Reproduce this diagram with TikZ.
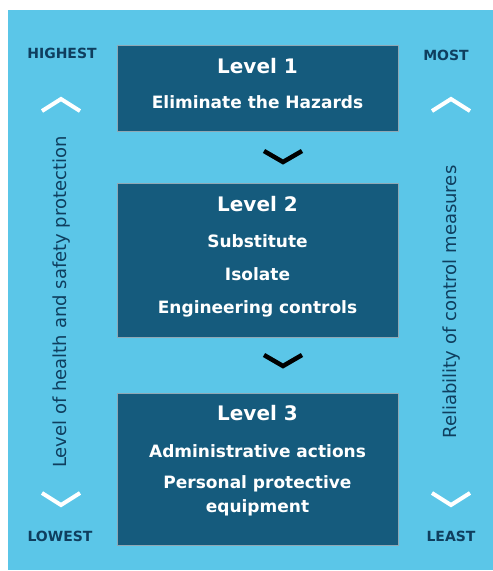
\documentclass[tikz,border=0pt]{standalone}
\usepackage{fontspec}
\setmainfont{DejaVu Sans}
\definecolor{bgblue}{HTML}{5BC6E8}
\definecolor{boxblue}{HTML}{155B7D}
\definecolor{darktxt}{HTML}{0F3E5E}
\definecolor{boxedge}{HTML}{8FA8B5}
\begin{document}
\begin{tikzpicture}[x=1pt,y=-1pt,
  levelbox/.style={draw=boxedge,line width=0.8pt,fill=boxblue},
  ttl/.style={text=white,font=\bfseries\fontsize{20}{22}\selectfont,anchor=center},
  item/.style={text=white,font=\bfseries\fontsize{17}{24}\selectfont,anchor=center,align=center},
  side/.style={text=darktxt,font=\bfseries\fontsize{14}{16}\selectfont,anchor=center},
  axis/.style={text=darktxt,font=\fontsize{18}{20}\selectfont,anchor=center,rotate=90},
  wchev/.style={draw=white,line width=4pt,line cap=butt,line join=miter},
  bchev/.style={draw=black,line width=4.5pt,line cap=butt,line join=miter}]
\useasboundingbox (0,0) rectangle (493,571);
\fill[bgblue] (8,10) rectangle (493,570);
% boxes
\draw[levelbox] (117,45) rectangle (398,131);
\draw[levelbox] (117,183) rectangle (398,337);
\draw[levelbox] (117,393) rectangle (398,545);
% box texts
\node[ttl] (l1) at (257.5,66) {Level 1};
\node[item] (e1) at (257.5,102) {Eliminate the Hazards};
\node[ttl] (l2) at (257.5,204) {Level 2};
\node[item] (s2) at (257.5,241) {Substitute};
\node[item] (i2) at (257.5,274) {Isolate};
\node[item] (g2) at (257.5,309) {Engineering controls};
\node[ttl] (l3) at (257.5,413) {Level 3};
\node[item] (a3) at (257.5,451) {Administrative actions};
\node[item] (p3) at (257.5,496) {Personal protective\\equipment};
% black chevrons
\draw[bchev] (264,151) -- (283,162) -- (302,151);
\draw[bchev] (264,355) -- (283,366) -- (302,355);
% side labels
\node[side] (hi) at (62,53) {HIGHEST};
\node[side] (mo) at (446,55) {MOST};
\node[side] (lo) at (60,536) {LOWEST};
\node[side] (le) at (451,536) {LEAST};
% white chevrons
\draw[wchev] (42,111) -- (61,99) -- (80,111);
\draw[wchev] (432,111) -- (451,99) -- (470,111);
\draw[wchev] (42,493) -- (61,505) -- (80,493);
\draw[wchev] (432,493) -- (451,505) -- (470,493);
% axis labels
\node[axis] (ax1) at (62,302) {Level of health and safety protection};
\node[axis] (ax2) at (452,302) {Reliability of control measures};
\end{tikzpicture}
\end{document}
